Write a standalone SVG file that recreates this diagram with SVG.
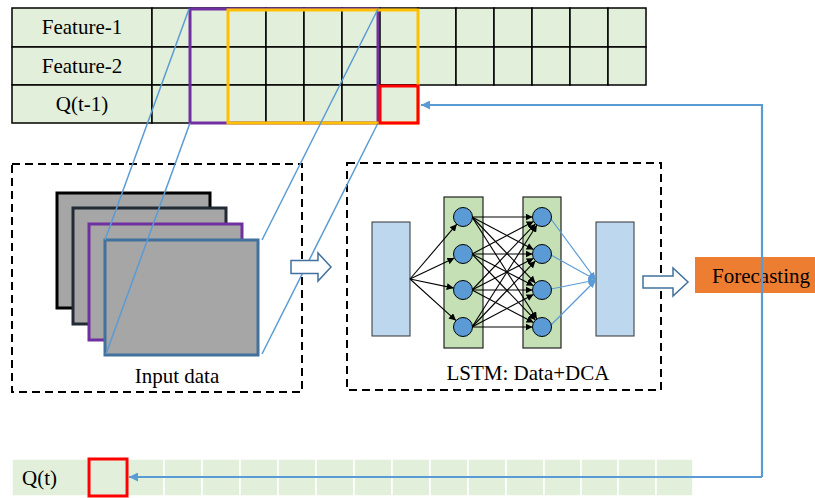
<svg xmlns="http://www.w3.org/2000/svg" width="815" height="498" viewBox="0 0 815 498">
<defs>
<style>
.txt{font-family:"Liberation Serif","Times New Roman",serif;font-size:21px;fill:#000}
.cell{fill:#e2efda;stroke:#000;stroke-width:1.5}
.bcell{fill:#e2efda;stroke:#fff;stroke-width:1.5}
.dash{fill:none;stroke:#000;stroke-width:2;stroke-dasharray:8 5}
.blue{fill:none;stroke:#5b9bd5;stroke-width:1.5}
.fb{fill:none;stroke:#5b9bd5;stroke-width:2.2}
.nn{fill:none;stroke:#000;stroke-width:1.1}
.nnb{fill:none;stroke:#5b9bd5;stroke-width:1.2}
.neuron{fill:#5b9bd5;stroke:#000;stroke-width:1}
.layer{fill:#c5e0b4;stroke:#222;stroke-width:1.2}
.io{fill:#bdd7ee;stroke:#333;stroke-width:1}
.frame{fill:#a6a6a6;stroke-width:3}
.hollow{fill:#fff;stroke:#41719c;stroke-width:1.5}
</style>
<marker id="ah" viewBox="0 0 10 10" refX="10" refY="5" markerWidth="7" markerHeight="7" markerUnits="userSpaceOnUse" orient="auto"><path d="M0,0 L10,5 L0,10 z" fill="#000"/></marker>
<marker id="ahb" viewBox="0 0 10 10" refX="10" refY="5" markerWidth="9" markerHeight="9" markerUnits="userSpaceOnUse" orient="auto"><path d="M0,0 L10,5 L0,10 z" fill="#5b9bd5"/></marker>
<marker id="ahs" viewBox="0 0 10 10" refX="10" refY="5" markerWidth="8" markerHeight="8" markerUnits="userSpaceOnUse" orient="auto"><path d="M0,1 L10,5 L0,9 z" fill="#5b9bd5"/></marker>
</defs>

<g id="feature-table">
<rect class="cell" x="12" y="8" width="140" height="39"/>
<rect class="cell" x="12" y="47" width="140" height="38"/>
<rect class="cell" x="12" y="85" width="140" height="38"/>
<g id="row1">
<rect class="cell" x="152" y="8" width="38" height="39"/><rect class="cell" x="190" y="8" width="38" height="39"/><rect class="cell" x="228" y="8" width="38" height="39"/><rect class="cell" x="266" y="8" width="38" height="39"/><rect class="cell" x="304" y="8" width="38" height="39"/><rect class="cell" x="342" y="8" width="38" height="39"/><rect class="cell" x="380" y="8" width="38" height="39"/><rect class="cell" x="418" y="8" width="38" height="39"/><rect class="cell" x="456" y="8" width="38" height="39"/><rect class="cell" x="494" y="8" width="38" height="39"/><rect class="cell" x="532" y="8" width="38" height="39"/><rect class="cell" x="570" y="8" width="38" height="39"/><rect class="cell" x="608" y="8" width="38" height="39"/>
</g>
<g id="row2">
<rect class="cell" x="152" y="47" width="38" height="38"/><rect class="cell" x="190" y="47" width="38" height="38"/><rect class="cell" x="228" y="47" width="38" height="38"/><rect class="cell" x="266" y="47" width="38" height="38"/><rect class="cell" x="304" y="47" width="38" height="38"/><rect class="cell" x="342" y="47" width="38" height="38"/><rect class="cell" x="380" y="47" width="38" height="38"/><rect class="cell" x="418" y="47" width="38" height="38"/><rect class="cell" x="456" y="47" width="38" height="38"/><rect class="cell" x="494" y="47" width="38" height="38"/><rect class="cell" x="532" y="47" width="38" height="38"/><rect class="cell" x="570" y="47" width="38" height="38"/><rect class="cell" x="608" y="47" width="38" height="38"/>
</g>
<g id="row3">
<rect class="cell" x="152" y="85" width="38" height="38"/><rect class="cell" x="190" y="85" width="38" height="38"/><rect class="cell" x="228" y="85" width="38" height="38"/><rect class="cell" x="266" y="85" width="38" height="38"/><rect class="cell" x="304" y="85" width="38" height="38"/><rect class="cell" x="342" y="85" width="38" height="38"/><rect class="cell" x="380" y="85" width="38" height="38"/>
</g>
<text class="txt" x="82" y="34" text-anchor="middle">Feature-1</text>
<text class="txt" x="82" y="73" text-anchor="middle">Feature-2</text>
<text class="txt" x="82" y="111" text-anchor="middle">Q(t-1)</text>
<rect x="190" y="9" width="188" height="114" fill="none" stroke="#7030a0" stroke-width="3"/>
<rect x="228" y="10" width="190" height="113" fill="none" stroke="#ffc000" stroke-width="3"/>
<rect x="380" y="86" width="38" height="37" fill="none" stroke="#ff0000" stroke-width="3"/>
</g>

<g id="input-data">
<rect class="dash" x="12" y="164" width="290" height="228"/>
<rect class="frame" x="57" y="193" width="153" height="115" stroke="#000"/>
<rect class="frame" x="73" y="208" width="153" height="116" stroke="#222a35"/>
<rect class="frame" x="89" y="224" width="153" height="116" stroke="#7030a0"/>
<rect class="frame" x="105" y="240" width="153" height="115" stroke="#41719c"/>
<text class="txt" x="177" y="383" text-anchor="middle">Input data</text>
</g>

<g id="lstm">
<rect class="dash" x="347" y="163" width="314" height="227"/>
<rect class="io" x="372" y="222" width="38" height="114"/>
<rect class="layer" x="444" y="197" width="39" height="151"/>
<rect class="layer" x="523" y="197" width="38" height="151"/>
<rect class="io" x="596" y="222" width="38" height="114"/>
<text class="txt" x="528" y="380" text-anchor="middle">LSTM: Data+DCA</text>
</g>

<g id="forecasting">
<rect x="695" y="257" width="122" height="36" fill="#ed7d31"/>
<text class="txt" x="712" y="283">Forecasting</text>
</g>

<g id="output-row">
<rect class="bcell" x="12" y="459" width="76" height="37"/>
<rect class="bcell" x="88" y="459" width="38" height="37"/><rect class="bcell" x="126" y="459" width="38" height="37"/><rect class="bcell" x="164" y="459" width="38" height="37"/><rect class="bcell" x="202" y="459" width="38" height="37"/><rect class="bcell" x="240" y="459" width="38" height="37"/><rect class="bcell" x="278" y="459" width="38" height="37"/><rect class="bcell" x="316" y="459" width="38" height="37"/><rect class="bcell" x="354" y="459" width="38" height="37"/><rect class="bcell" x="392" y="459" width="38" height="37"/><rect class="bcell" x="430" y="459" width="38" height="37"/><rect class="bcell" x="468" y="459" width="38" height="37"/><rect class="bcell" x="506" y="459" width="38" height="37"/><rect class="bcell" x="544" y="459" width="37" height="37"/><rect class="bcell" x="581" y="459" width="37" height="37"/><rect class="bcell" x="618" y="459" width="38" height="37"/><rect class="bcell" x="656" y="459" width="37" height="37"/>
<text class="txt" x="22" y="485">Q(t)</text>
<rect x="89" y="459" width="38" height="37" fill="none" stroke="#ff0000" stroke-width="3"/>
</g>

<g id="connectors">
<line class="blue" x1="189" y1="9" x2="105" y2="240"/>
<line class="blue" x1="190" y1="123" x2="106" y2="354"/>
<line class="blue" x1="378" y1="9" x2="262" y2="240"/>
<line class="blue" x1="378" y1="123" x2="262" y2="354"/>
<polygon class="hollow" points="291,260.5 318,260.5 318,253 331,267 318,281 318,273.5 291,273.5"/>
<polygon class="hollow" points="643,276 673,276 673,268 688,282 673,296 673,288 643,288"/>
<polyline class="fb" points="762,477 762,105 421,105" marker-end="url(#ahb)"/>
<line class="fb" x1="762" y1="477" x2="129" y2="477" marker-end="url(#ahb)"/>
<g id="nn-in">
<line class="nn" x1="410" y1="279" x2="456.8" y2="224.2" marker-end="url(#ah)"/>
<line class="nn" x1="410" y1="279" x2="454.4" y2="258.1" marker-end="url(#ah)"/>
<line class="nn" x1="410" y1="279" x2="453.7" y2="288.1" marker-end="url(#ah)"/>
<line class="nn" x1="410" y1="279" x2="456.0" y2="320.6" marker-end="url(#ah)"/>
</g>
<g id="nn-mid">
<line class="nn" x1="472" y1="217" x2="532.5" y2="217" marker-end="url(#ah)"/>
<line class="nn" x1="472" y1="217" x2="533.6" y2="249.6" marker-end="url(#ah)"/>
<line class="nn" x1="472" y1="217" x2="535.4" y2="283.1" marker-end="url(#ah)"/>
<line class="nn" x1="472" y1="217" x2="536.9" y2="319" marker-end="url(#ah)"/>
<line class="nn" x1="472" y1="254" x2="533.6" y2="221.4" marker-end="url(#ah)"/>
<line class="nn" x1="472" y1="254" x2="532.5" y2="254" marker-end="url(#ah)"/>
<line class="nn" x1="472" y1="254" x2="533.6" y2="285.7" marker-end="url(#ah)"/>
<line class="nn" x1="472" y1="254" x2="535.4" y2="320.1" marker-end="url(#ah)"/>
<line class="nn" x1="472" y1="290" x2="535.4" y2="223.9" marker-end="url(#ah)"/>
<line class="nn" x1="472" y1="290" x2="533.6" y2="258.3" marker-end="url(#ah)"/>
<line class="nn" x1="472" y1="290" x2="532.5" y2="290" marker-end="url(#ah)"/>
<line class="nn" x1="472" y1="290" x2="533.6" y2="322.6" marker-end="url(#ah)"/>
<line class="nn" x1="472" y1="327" x2="536.9" y2="225" marker-end="url(#ah)"/>
<line class="nn" x1="472" y1="327" x2="535.4" y2="260.9" marker-end="url(#ah)"/>
<line class="nn" x1="472" y1="327" x2="533.6" y2="294.4" marker-end="url(#ah)"/>
<line class="nn" x1="472" y1="327" x2="532.5" y2="327" marker-end="url(#ah)"/>
</g>
<g id="nn-out">
<line class="nnb" x1="551" y1="219" x2="596" y2="280" marker-end="url(#ahs)"/>
<line class="nnb" x1="551" y1="255" x2="596" y2="280" marker-end="url(#ahs)"/>
<line class="nnb" x1="551" y1="289" x2="596" y2="280" marker-end="url(#ahs)"/>
<line class="nnb" x1="551" y1="325" x2="596" y2="280" marker-end="url(#ahs)"/>
</g>
</g>

<g id="neurons">
<circle class="neuron" cx="463" cy="217" r="9.5"/><circle class="neuron" cx="463" cy="254" r="9.5"/><circle class="neuron" cx="463" cy="290" r="9.5"/><circle class="neuron" cx="463" cy="327" r="9.5"/>
<circle class="neuron" cx="542" cy="217" r="9.5"/><circle class="neuron" cx="542" cy="254" r="9.5"/><circle class="neuron" cx="542" cy="290" r="9.5"/><circle class="neuron" cx="542" cy="327" r="9.5"/>
</g>
</svg>
